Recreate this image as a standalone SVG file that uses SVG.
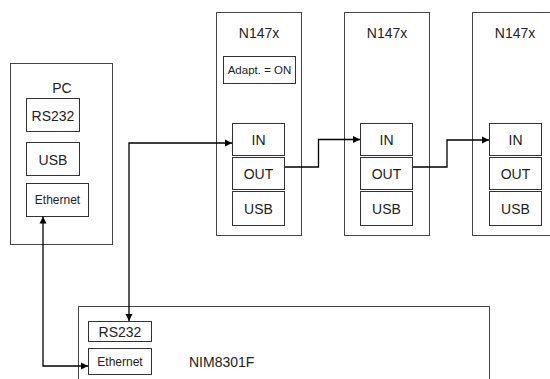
<svg xmlns="http://www.w3.org/2000/svg" width="550" height="379" viewBox="0 0 550 379">
<style>
.box{fill:#fff;stroke:#444;stroke-width:1}
.sub{fill:#fff;stroke:#333;stroke-width:1}
.t{font-family:"Liberation Sans",Arial,sans-serif;fill:#222;text-anchor:middle}
.t14{font-size:14px}
.t12{font-size:12px}
.t11{font-size:11.5px}
.conn{fill:none;stroke:#000;stroke-width:1.3}
</style>
<defs>
<marker id="arr" markerUnits="userSpaceOnUse" markerWidth="7" markerHeight="8" refX="7" refY="4" orient="auto-start-reverse">
<path d="M0,0.5 L7,4 L0,7.5 z" fill="#000"/>
</marker>
</defs>
<rect width="550" height="379" fill="#fff"/>

<g id="pc">
<rect class="box" x="10.5" y="63.5" width="102" height="181"/>
<text class="t t14" x="62" y="93">PC</text>
<rect class="sub" x="26.5" y="98.5" width="53" height="33"/>
<text class="t t14" x="53" y="121">RS232</text>
<rect class="sub" x="26.5" y="142.5" width="53" height="33"/>
<text class="t t14" x="53" y="164.5">USB</text>
<rect class="sub" x="26.5" y="183.5" width="62" height="33"/>
<text class="t t12" x="57.5" y="204">Ethernet</text>
</g>

<g id="n147x-1">
<rect class="box" x="216.5" y="12.5" width="85" height="223"/>
<text class="t t14" x="259" y="38">N147x</text>
<rect class="sub" x="223.5" y="56.5" width="72" height="27"/>
<text class="t t11" x="259.5" y="74">Adapt. = ON</text>
<rect class="sub" x="232.5" y="123.5" width="52" height="32"/>
<text class="t t14" x="258.5" y="144.5">IN</text>
<rect class="sub" x="232.5" y="157.5" width="52" height="32"/>
<text class="t t14" x="258.5" y="179">OUT</text>
<rect class="sub" x="232.5" y="191.5" width="52" height="34"/>
<text class="t t14" x="258.5" y="214">USB</text>
</g>

<g id="n147x-2">
<rect class="box" x="344.5" y="12.5" width="85" height="223"/>
<text class="t t14" x="387" y="38">N147x</text>
<rect class="sub" x="360.5" y="123.5" width="52" height="32"/>
<text class="t t14" x="386.5" y="144.5">IN</text>
<rect class="sub" x="360.5" y="157.5" width="52" height="32"/>
<text class="t t14" x="386.5" y="179">OUT</text>
<rect class="sub" x="360.5" y="191.5" width="52" height="34"/>
<text class="t t14" x="386.5" y="214">USB</text>
</g>

<g id="n147x-3">
<rect class="box" x="472.5" y="12.5" width="85" height="223"/>
<text class="t t14" x="515" y="38">N147x</text>
<rect class="sub" x="489.5" y="123.5" width="52" height="32"/>
<text class="t t14" x="515.5" y="144.5">IN</text>
<rect class="sub" x="489.5" y="157.5" width="52" height="32"/>
<text class="t t14" x="515.5" y="179">OUT</text>
<rect class="sub" x="489.5" y="191.5" width="52" height="34"/>
<text class="t t14" x="515.5" y="214">USB</text>
</g>

<g id="nim8301f">
<rect class="box" x="78.5" y="306.5" width="411" height="90"/>
<rect class="sub" x="88.5" y="321.5" width="63" height="20"/>
<text class="t t14" x="120" y="337">RS232</text>
<rect class="sub" x="88.5" y="348.5" width="63" height="26"/>
<text class="t t12" x="120" y="365.5">Ethernet</text>
<text class="t t14" x="189" y="366.5" style="text-anchor:start">NIM8301F</text>
</g>

<g id="connectors">
<path class="conn" d="M129,321 V143 H232" marker-start="url(#arr)" marker-end="url(#arr)"/>
<path class="conn" d="M43,216.5 V366 H88" marker-start="url(#arr)" marker-end="url(#arr)"/>
<path class="conn" d="M285,167 H318.5 V139.5 H360" marker-end="url(#arr)"/>
<path class="conn" d="M413,167 H447 V140 H489" marker-end="url(#arr)"/>
</g>
</svg>
